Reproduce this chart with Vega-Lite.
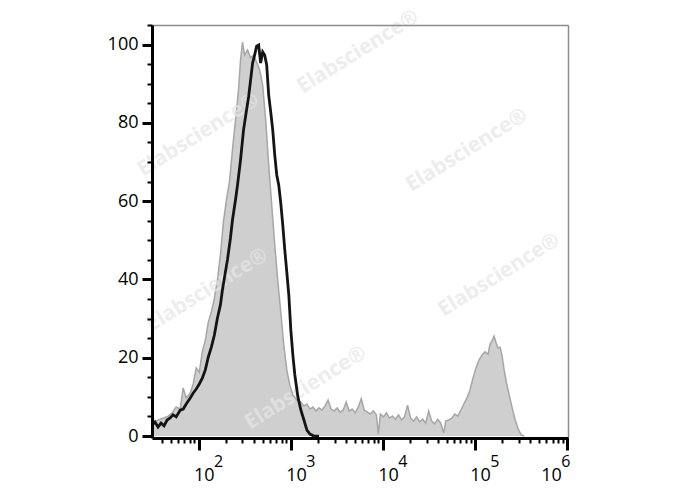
{
  "$schema": "https://vega.github.io/schema/vega-lite/v6.json",
  "autosize": {"type": "none"},
  "padding": {"left": 152, "top": 25, "right": 120, "bottom": 52},
  "width": 416,
  "height": 413,
  "background": "white",
  "config": {
    "view": {"stroke": null},
    "font": "Open Sans"
  },
  "resolve": {"axis": {"x": "independent", "y": "independent"}},
  "datasets": {
    "gray": [
      {"x":31.2,"y":3.1},{"x":34.5,"y":3.8},{"x":38.1,"y":4.3},{"x":42.2,"y":4.6},{"x":46.7,"y":5.1},{"x":51.6,"y":5.9},{"x":57.1,"y":7.4},{"x":63.1,"y":6.9},{"x":68.1,"y":12.3},{"x":73.4,"y":9.7},{"x":81.2,"y":11.0},{"x":87.5,"y":13.3},{"x":94.4,"y":17.4},{"x":101.8,"y":16.3},{"x":109.8,"y":21.5},{"x":118.4,"y":24.5},{"x":127.6,"y":29.1},{"x":137.7,"y":31.7},{"x":148.5,"y":35.2},{"x":160.1,"y":39.8},{"x":172.7,"y":46.2},{"x":186.2,"y":54.7},{"x":200.8,"y":60.3},{"x":216.5,"y":64.9},{"x":233.5,"y":73.1},{"x":251.8,"y":80.7},{"x":271.5,"y":88.4},{"x":285.5,"y":96.0},{"x":300.4,"y":100.6},{"x":315.9,"y":97.3},{"x":340.6,"y":98.6},{"x":367.3,"y":96.6},{"x":396.1,"y":97.3},{"x":427.1,"y":95.5},{"x":460.6,"y":93.5},{"x":496.8,"y":89.7},{"x":535.8,"y":80.7},{"x":577.8,"y":69.2},{"x":623.1,"y":59.0},{"x":672.0,"y":48.8},{"x":724.7,"y":39.8},{"x":781.5,"y":31.7},{"x":842.7,"y":23.2},{"x":908.8,"y":16.9},{"x":980.2,"y":13.0},{"x":1057,"y":10.5},{"x":1169,"y":9.2},{"x":1293,"y":8.7},{"x":1394,"y":7.7},{"x":1503,"y":8.2},{"x":1621,"y":6.9},{"x":1748,"y":7.4},{"x":1885,"y":6.4},{"x":2033,"y":7.2},{"x":2193,"y":6.6},{"x":2365,"y":7.7},{"x":2550,"y":9.2},{"x":2750,"y":6.9},{"x":2966,"y":6.4},{"x":3198,"y":7.2},{"x":3449,"y":6.1},{"x":3720,"y":6.6},{"x":4011,"y":8.7},{"x":4326,"y":6.4},{"x":4665,"y":6.9},{"x":5031,"y":5.9},{"x":5425,"y":7.4},{"x":5851,"y":9.5},{"x":6310,"y":6.6},{"x":6805,"y":6.1},{"x":7338,"y":5.6},{"x":7914,"y":6.4},{"x":8534,"y":5.4},{"x":8975,"y":0.5},{"x":9439,"y":5.6},{"x":10179,"y":4.9},{"x":10977,"y":5.9},{"x":11838,"y":4.6},{"x":12766,"y":5.1},{"x":13767,"y":4.3},{"x":14846,"y":5.4},{"x":16010,"y":4.1},{"x":17266,"y":4.9},{"x":18620,"y":7.9},{"x":20080,"y":4.6},{"x":21655,"y":3.8},{"x":23352,"y":4.9},{"x":25184,"y":3.6},{"x":27159,"y":4.3},{"x":29289,"y":3.3},{"x":31586,"y":6.4},{"x":34063,"y":3.8},{"x":36733,"y":3.1},{"x":39614,"y":4.3},{"x":42721,"y":3.3},{"x":46071,"y":0.8},{"x":48450,"y":3.8},{"x":52240,"y":4.1},{"x":56340,"y":4.6},{"x":60760,"y":5.6},{"x":65520,"y":5.1},{"x":70660,"y":6.6},{"x":76210,"y":8.2},{"x":82180,"y":9.7},{"x":88620,"y":11.7},{"x":95570,"y":14.8},{"x":103060,"y":17.4},{"x":111140,"y":19.4},{"x":119860,"y":20.7},{"x":129260,"y":21.5},{"x":139400,"y":20.9},{"x":146600,"y":23.5},{"x":154200,"y":24.3},{"x":162150,"y":25.5},{"x":170500,"y":23.8},{"x":179300,"y":22.5},{"x":188600,"y":22.7},{"x":198300,"y":20.4},{"x":208500,"y":16.9},{"x":219300,"y":14.0},{"x":236500,"y":10.5},{"x":255000,"y":7.2},{"x":275000,"y":4.1},{"x":296700,"y":1.8},{"x":319900,"y":0.3},{"x":345000,"y":0}
    ],
    "black": [
      {"x":31.2,"y":2.8},{"x":33.6,"y":3.6},{"x":36.3,"y":2.3},{"x":39.1,"y":3.3},{"x":42.2,"y":2.6},{"x":45.5,"y":4.1},{"x":49.1,"y":4.6},{"x":52.9,"y":5.4},{"x":57.1,"y":4.9},{"x":63.1,"y":6.6},{"x":68.1,"y":6.9},{"x":73.4,"y":8.2},{"x":81.2,"y":9.7},{"x":87.5,"y":11.0},{"x":94.4,"y":12.0},{"x":101.8,"y":13.3},{"x":109.8,"y":14.8},{"x":118.4,"y":16.9},{"x":127.6,"y":20.2},{"x":137.7,"y":22.7},{"x":148.5,"y":25.8},{"x":160.1,"y":30.1},{"x":172.7,"y":33.5},{"x":181.6,"y":37.3},{"x":190.9,"y":40.4},{"x":205.9,"y":45.0},{"x":222.0,"y":50.6},{"x":233.5,"y":55.2},{"x":251.8,"y":60.3},{"x":264.8,"y":64.1},{"x":285.5,"y":70.5},{"x":308.0,"y":78.2},{"x":332.1,"y":83.3},{"x":349.3,"y":86.6},{"x":367.3,"y":90.9},{"x":386.3,"y":95.3},{"x":406.2,"y":97.3},{"x":427.1,"y":99.6},{"x":449.2,"y":99.9},{"x":472.4,"y":95.3},{"x":496.8,"y":98.1},{"x":522.4,"y":97.3},{"x":549.4,"y":94.8},{"x":577.8,"y":87.1},{"x":607.6,"y":82.8},{"x":639.0,"y":78.2},{"x":672.0,"y":71.8},{"x":706.7,"y":66.7},{"x":743.1,"y":64.1},{"x":781.5,"y":59.5},{"x":821.8,"y":53.9},{"x":864.2,"y":47.5},{"x":908.8,"y":41.9},{"x":955.7,"y":36.0},{"x":1005,"y":27.1},{"x":1057,"y":20.7},{"x":1111,"y":15.6},{"x":1199,"y":10.0},{"x":1293,"y":6.6},{"x":1394,"y":4.1},{"x":1503,"y":1.5},{"x":1621,"y":0.5},{"x":1793,"y":0},{"x":2033,"y":0}
    ],
    "marks": [
      {"x":5420,"y":98.1,"t":"Elabscience®"},
      {"x":82200,"y":73,"t":"Elabscience®"},
      {"x":100,"y":76.9,"t":"Elabscience®"},
      {"x":183700,"y":41.1,"t":"Elabscience®"},
      {"x":124.5,"y":37.3,"t":"Elabscience®"},
      {"x":1466,"y":12.3,"t":"Elabscience®"}
    ]
  },
  "layer": [
    {
      "data": {"name": "gray"},
      "mark": {"type": "area", "color": "#cfcfcf", "opacity": 1, "line": {"color": "#a6a6a6", "strokeWidth": 1.5}, "clip": true},
      "encoding": {
        "x": {
          "field": "x", "type": "quantitative",
          "scale": {"type": "log", "domain": [31.2, 1030000], "nice": false},
          "axis": {
            "title": null,
            "orient": "bottom",
            "zindex": 2,
            "values": [40,50,60,70,80,90,100,200,300,400,500,600,700,800,900,1000,2000,3000,4000,5000,6000,7000,8000,9000,10000,20000,30000,40000,50000,60000,70000,80000,90000,100000,200000,300000,400000,500000,600000,700000,800000,900000,1000000],
            "labelExpr": "indexof([100,1000,10000,100000,1000000], datum.value) >= 0 ? '10' : ''",
            "grid": false,
            "domainColor": "black", "domainWidth": 3,
            "tickColor": "black",
            "tickSize": {"condition": {"test": "indexof([100,1000,10000,100000,1000000], datum.value) >= 0", "value": 12}, "value": 5},
            "tickWidth": {"condition": {"test": "indexof([100,1000,10000,100000,1000000], datum.value) >= 0", "value": 3}, "value": 2},
            "labelFontSize": 18, "labelColor": "black", "labelFont": "Open Sans",
            "labelAlign": "left",
            "labelOffset": {"condition": {"test": "datum.value==1000000", "value": -26}, "value": -5},
            "labelPadding": 16,
            "labelOverlap": false, "labelFlush": false, "labelBound": false
          }
        },
        "y": {
          "field": "y", "type": "quantitative",
          "scale": {"domain": [-0.5, 105], "nice": false, "zero": false},
          "axis": {
            "title": null,
            "orient": "left",
            "zindex": 2,
            "values": [0,5,10,15,20,25,30,35,40,45,50,55,60,65,70,75,80,85,90,95,100,105],
            "labelExpr": "datum.value % 20 == 0 ? datum.label : ''",
            "grid": false,
            "domainColor": "black", "domainWidth": 3,
            "tickColor": "black",
            "tickSize": {"condition": {"test": "datum.value % 20 == 0", "value": 10}, "value": 5},
            "tickWidth": {"condition": {"test": "datum.value % 20 == 0", "value": 3}, "value": 2},
            "labelFontSize": 18, "labelColor": "black", "labelFont": "Open Sans",
            "labelPadding": 4,
            "labelOverlap": false, "labelFlush": false, "labelBound": false
          }
        }
      }
    },
    {
      "data": {"name": "marks"},
      "mark": {"type": "text", "angle": -32, "fontSize": 21, "fontWeight": "bold", "font": "Open Sans", "color": "#e6e6e6", "opacity": 0.7, "align": "center", "baseline": "middle"},
      "encoding": {
        "x": {"field": "x", "type": "quantitative", "axis": {
          "orient": "bottom", "title": null, "domain": false, "ticks": false, "tickSize": 0, "grid": false,
          "values": [100,1000,10000,100000,1000000],
          "labelExpr": "datum.value==100?'2':datum.value==1000?'3':datum.value==10000?'4':datum.value==100000?'5':'6'",
          "labelFontSize": 16, "labelColor": "black", "labelFont": "Open Sans",
          "labelAlign": "left",
          "labelOffset": {"condition": {"test": "datum.value==1000000", "value": -6}, "value": 15},
          "labelPadding": 15,
          "labelOverlap": false, "labelFlush": false, "labelBound": false
        }},
        "y": {"field": "y", "type": "quantitative", "axis": null},
        "text": {"field": "t"}
      }
    },
    {
      "data": {"name": "black"},
      "mark": {"type": "line", "color": "#141414", "strokeWidth": 2.8, "clip": true},
      "encoding": {
        "x": {"field": "x", "type": "quantitative", "axis": {"orient": "top", "title": null, "labels": false, "ticks": false, "grid": false, "domainColor": "#8c8c8c", "domainWidth": 1.5, "zindex": 1}},
        "y": {"field": "y", "type": "quantitative", "axis": {"orient": "right", "title": null, "labels": false, "ticks": false, "grid": false, "domainColor": "#8c8c8c", "domainWidth": 1.5, "zindex": 1}}
      }
    }
  ]
}
